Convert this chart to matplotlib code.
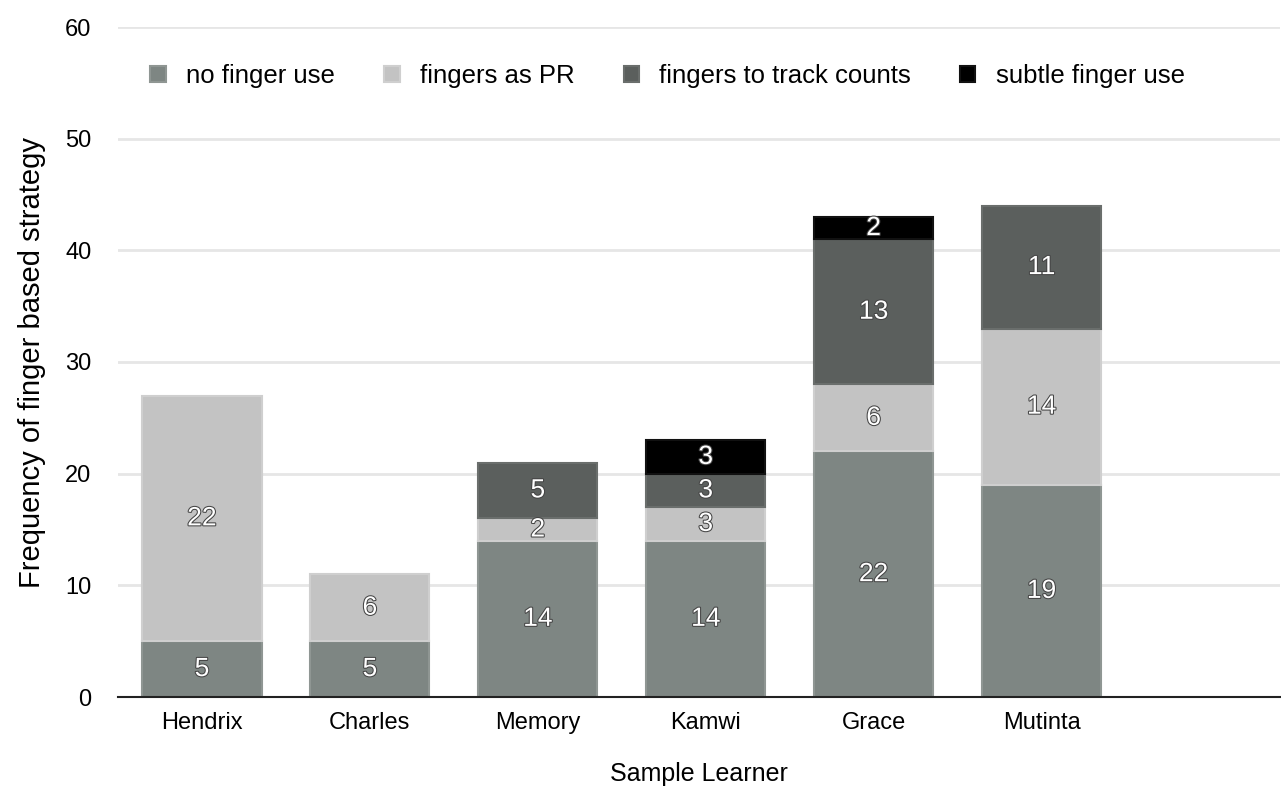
import matplotlib
matplotlib.use("Agg")
import matplotlib.pyplot as plt
import matplotlib.patheffects as pe
import numpy as np

learners = ["Hendrix", "Charles", "Memory", "Kamwi", "Grace", "Mutinta"]
no_finger = [5, 5, 14, 14, 22, 19]
fingers_pr = [22, 6, 2, 3, 6, 14]
track_counts = [0, 0, 5, 3, 13, 11]
subtle = [0, 0, 0, 3, 2, 0]
series_names = ["no finger use", "fingers as PR", "fingers to track counts", "subtle finger use"]
colors = ["#7e8683", "#c3c3c3", "#5b5f5d", "#000000"]
edge_colors = ["#8f9693", "#cfcfcf", "#6a6e6c", "#111111"]

plt.rcParams['font.family'] = ['Liberation Sans', 'DejaVu Sans']

fig = plt.figure(figsize=(12.81, 7.87), dpi=100)
ax = fig.add_axes([118/1281, 90/787, (1280-118)/1281, (697-27)/787])

x = np.arange(len(learners))
bottom = np.zeros(len(learners))
width = 0.71
for vals, name, c, ec in zip([no_finger, fingers_pr, track_counts, subtle], series_names, colors, edge_colors):
    vals = np.array(vals, dtype=float)
    mask = vals > 0
    ax.bar(x[mask], vals[mask], width, bottom=bottom[mask], color=c, edgecolor=ec,
           linewidth=1.5, label=name, zorder=3)
    for xi, v, b in zip(x, vals, bottom):
        if v > 0:
            ax.text(xi, b + v / 2, f"{int(v)}", ha="center", va="center", color="white",
                    fontsize=19, zorder=5,
                    path_effects=[pe.withStroke(linewidth=1.5, foreground="#444444")])
    bottom += vals

ax.set_xlim(-0.5, 6.42)
ax.set_ylim(0, 60)
ax.set_yticks(range(0, 61, 10))
ax.yaxis.grid(True, color="#e6e6e6", linewidth=2, zorder=0)
ax.set_axisbelow(True)
for s in ["top", "right", "left"]:
    ax.spines[s].set_visible(False)
ax.spines["bottom"].set_color("#222222")
ax.spines["bottom"].set_linewidth(1.5)
ax.spines["bottom"].set_zorder(6)
ax.tick_params(axis="y", length=0, pad=19, labelsize=17)
ax.tick_params(axis="x", length=0, pad=11, labelsize=17)
ax.set_xticks(x)
ax.set_xticklabels(learners)
ax.set_xlabel("Sample Learner", fontsize=18, labelpad=20)
ax.set_ylabel("Frequency of finger based strategy", fontsize=21, labelpad=14)

leg = ax.legend(loc="upper left", bbox_to_anchor=(0.008, 0.979), ncol=4, frameon=False,
                fontsize=18.5, handlelength=0.6, handleheight=0.6, columnspacing=1.9,
                handletextpad=0.8)

fig.savefig("out.png", dpi=100)
